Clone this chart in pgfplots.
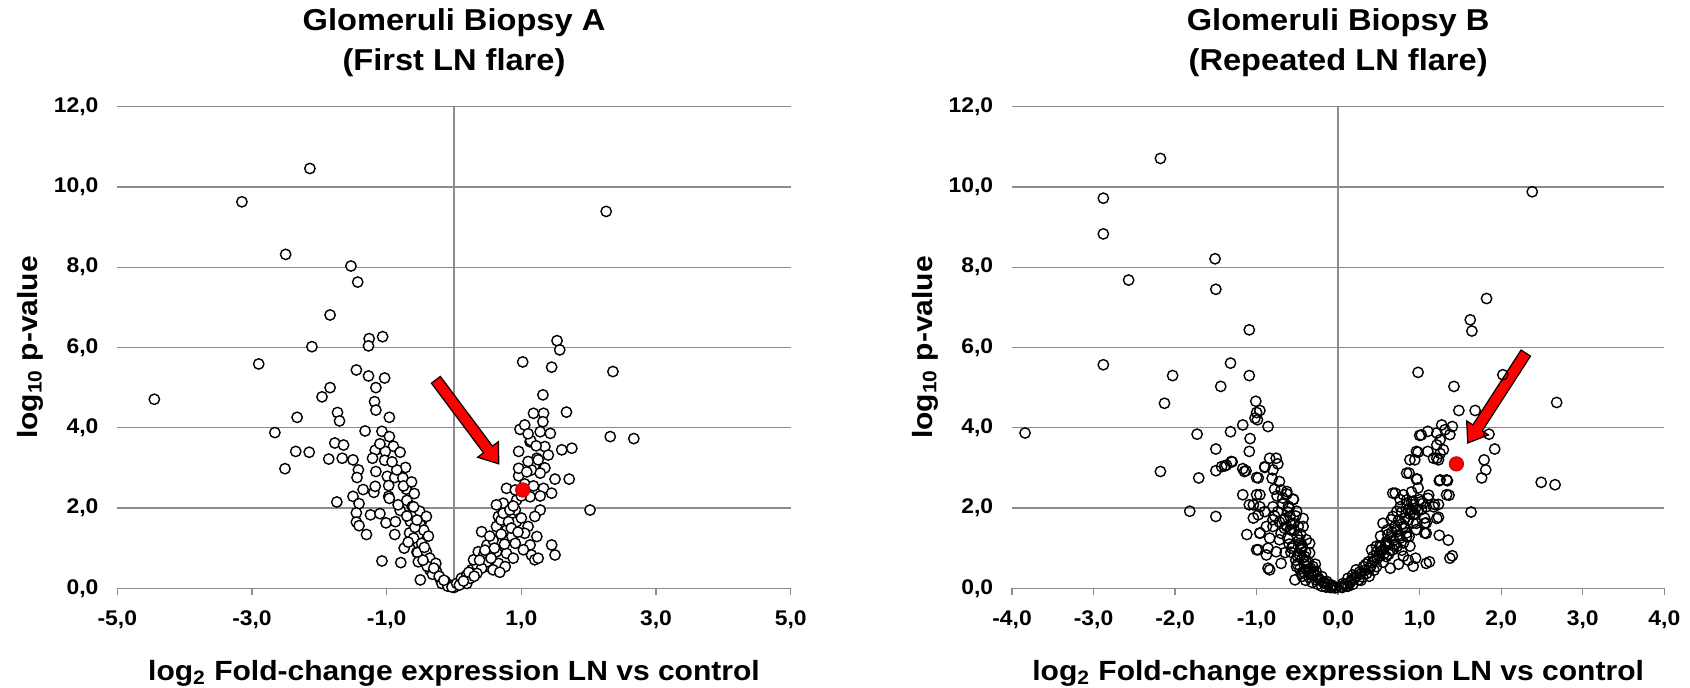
\documentclass[border=0pt]{standalone}
\usepackage{fontspec}
\setmainfont{Liberation Sans}[FakeStretch=1.08]
\usepackage{pgfplots}
\pgfplotsset{compat=1.18}
\definecolor{gridgray}{RGB}{140,140,140}

\pgfplotstableread{
x y
-2.14 10.46
-3.15 9.63
-2.50 8.32
-1.53 8.03
-1.43 7.63
-1.84 6.81
-2.11 6.02
-1.26 6.22
-1.27 6.04
-1.06 6.27
-2.90 5.59
-4.45 4.71
-1.45 5.44
-1.27 5.29
-1.03 5.24
-1.16 5.00
-1.84 5.00
-1.96 4.77
-1.18 4.65
-1.16 4.44
-1.73 4.38
-1.70 4.17
-2.33 4.26
-0.96 4.26
-2.66 3.88
-1.32 3.92
-1.07 3.91
-0.96 3.78
-2.35 3.41
-2.15 3.39
-2.51 2.98
-1.74 2.15
-1.86 3.22
-1.77 3.62
-1.64 3.57
-1.66 3.24
-1.50 3.20
-1.42 2.95
-1.44 2.76
-0.90 3.54
-0.80 3.39
-1.17 3.44
-1.02 3.41
-1.21 3.24
-1.03 3.19
-0.72 3.01
-1.16 2.91
-0.99 2.79
-0.88 2.76
-0.76 2.75
-1.35 2.46
-1.19 2.39
-1.17 2.54
-0.97 2.56
-0.97 2.29
-0.71 2.47
-0.59 2.36
-0.70 2.19
-1.50 2.29
-1.41 2.11
-1.45 1.88
-1.45 1.65
-1.41 1.56
-1.30 1.34
-1.24 1.83
-1.10 1.86
-1.01 1.63
-0.87 1.66
-0.88 1.34
-0.80 1.94
-0.65 1.67
-0.62 2.04
-0.51 1.92
-0.49 1.63
-0.66 1.38
-0.53 1.34
-0.53 1.11
-0.74 1.00
-0.55 0.90
-1.07 0.68
-0.79 0.64
-0.96 2.24
-0.83 2.08
-0.60 2.03
-0.41 1.79
-0.50 1.58
-0.60 1.25
-0.48 1.12
-0.54 0.89
-0.53 0.66
-0.41 0.91
-0.36 0.75
-0.27 0.62
-0.50 0.21
-0.36 0.46
-0.26 0.42
-0.21 0.25
-0.13 0.17
-0.06 0.08
0.00 0.02
-0.45 1.45
-0.44 1.02
-0.40 0.55
-0.32 0.35
-0.18 0.12
-0.09 0.05
-0.03 0.03
-0.58 1.52
-0.70 1.80
-0.75 2.55
-0.85 2.95
-0.63 2.65
-0.92 3.15
-1.10 3.60
-0.46 0.70
-0.30 0.50
-0.22 0.30
-0.15 0.20
-0.55 1.70
-0.68 1.15
-0.38 1.30
0.04 0.12
0.11 0.25
0.19 0.33
0.26 0.46
0.34 0.58
0.36 0.91
0.44 0.83
0.51 0.54
0.41 1.41
0.49 1.08
0.58 1.20
0.63 1.54
0.66 1.79
0.73 2.12
0.70 1.70
0.78 1.45
0.78 0.87
0.86 1.29
0.93 1.66
0.91 1.95
0.93 2.20
0.78 2.49
0.91 2.45
0.96 2.80
0.96 2.99
0.96 3.41
0.98 3.96
1.05 4.07
1.13 3.65
1.18 4.36
1.33 4.36
1.32 4.82
1.32 4.15
1.43 3.86
1.28 3.90
1.35 3.53
1.23 3.24
1.40 3.32
1.33 2.99
1.15 2.95
1.50 2.72
1.67 4.39
1.60 3.45
1.75 3.49
1.71 2.72
1.33 2.49
1.45 2.37
1.28 2.30
1.13 2.28
2.02 1.95
2.32 3.78
2.67 3.73
1.28 1.95
1.20 1.79
1.10 1.54
1.05 1.37
1.23 1.29
1.13 1.08
1.15 0.83
1.03 0.96
1.45 1.08
1.50 0.83
1.20 0.71
1.25 0.75
0.91 1.12
0.63 0.91
0.66 0.62
0.76 0.54
0.58 0.46
0.49 0.66
0.29 0.71
0.41 0.50
0.19 0.12
0.24 0.25
0.34 0.37
0.63 2.08
0.73 1.87
0.83 1.95
0.81 1.66
2.26 9.39
1.53 6.17
1.57 5.94
1.02 5.64
1.45 5.51
2.36 5.40
1.14 3.68
1.10 3.16
1.25 3.20
1.35 3.00
1.28 2.87
0.08 0.08
0.14 0.18
0.22 0.40
0.30 0.30
0.38 0.70
0.46 0.95
0.53 1.30
0.55 0.75
0.60 1.00
0.70 1.35
0.75 1.10
0.85 1.50
0.88 2.05
1.00 2.30
1.05 2.60
1.08 2.90
1.00 1.75
0.95 1.40
1.18 2.55
1.22 3.55
1.10 3.85
0.88 0.75
0.68 0.40
}\dataA

\pgfplotstableread{
x y
-2.18 10.71
-2.88 9.72
-2.88 8.83
-1.51 8.21
-2.57 7.68
-1.50 7.45
-1.09 6.44
-2.88 5.57
-1.32 5.61
-2.03 5.30
-1.09 5.30
-1.44 5.03
-2.13 4.61
-1.01 4.66
-1.00 4.38
-1.02 4.24
-3.84 3.87
-1.73 3.84
-1.32 3.90
-1.17 4.07
-1.08 3.73
-1.50 3.47
-1.09 3.41
-1.30 3.15
-1.39 3.05
-1.50 2.93
-2.18 2.91
-1.17 2.98
-1.13 2.93
-1.71 2.75
-1.00 2.76
-1.17 2.33
-1.09 2.08
-1.00 2.33
-1.82 1.92
-1.50 1.79
-1.12 1.34
-1.00 0.96
-1.04 1.75
-0.96 4.43
-0.99 4.20
-0.86 4.03
-0.98 2.75
-0.90 3.01
-0.84 3.24
-0.76 3.24
-0.80 2.95
-0.72 2.66
-0.63 2.41
-0.55 2.21
-0.96 2.33
-1.04 2.08
-0.98 1.83
-0.96 1.38
-0.80 1.71
-0.67 1.71
-0.61 2.04
-0.51 1.92
-0.59 1.46
-0.43 1.54
-0.39 1.21
-0.35 0.88
-0.72 1.21
-0.86 1.00
-0.57 1.00
-1.43 3.03
-1.37 3.07
-1.31 3.16
-1.15 2.91
-0.90 3.03
-0.74 3.10
-0.81 2.74
-0.78 2.47
-0.70 2.45
-0.63 2.35
-0.55 2.22
-0.96 2.03
-0.90 1.91
-0.80 2.03
-0.74 1.91
-0.65 1.74
-0.59 1.79
-0.55 1.62
-0.49 1.54
-0.57 1.45
-0.43 1.74
-0.63 1.54
-0.70 1.37
-0.80 1.54
-0.88 1.54
-0.96 1.37
-0.84 1.25
-0.98 0.96
-0.88 0.83
-0.76 0.91
-0.65 0.89
-0.84 0.46
-0.70 0.62
-0.53 0.21
-0.45 0.96
-0.41 0.79
-0.37 0.66
-0.31 0.54
-0.27 0.42
-0.20 0.29
-0.14 0.17
-0.08 0.08
-0.02 0.02
-0.39 0.46
-0.33 0.33
-0.27 0.21
-0.47 1.12
-0.35 1.12
-0.51 0.54
-0.45 0.37
-0.86 0.50
-0.50 0.80
-0.42 0.60
-0.36 0.40
-0.30 0.35
-0.24 0.25
-0.18 0.15
-0.12 0.10
-0.06 0.05
-0.44 0.30
-0.40 0.20
-0.32 0.15
-0.25 0.10
-0.50 1.30
-0.46 1.00
-0.52 0.70
-0.60 1.10
-0.40 0.90
-0.62 1.90
-0.68 2.10
-0.75 2.30
-0.58 1.60
-0.46 1.35
-0.20 0.05
-0.15 0.03
-0.10 0.02
-0.28 0.60
-0.55 1.05
-0.48 0.85
-0.44 0.75
-0.38 0.55
-0.34 0.50
-0.30 0.42
-0.26 0.30
-0.22 0.20
-0.16 0.12
-0.50 0.60
-0.47 0.48
-0.42 0.40
-0.36 0.28
-0.62 1.25
-0.58 0.90
-0.66 1.50
-0.54 1.45
-0.72 1.65
-0.78 1.80
-0.68 2.25
-0.60 2.00
-0.52 1.80
-0.48 1.20
-0.44 1.05
-0.40 0.70
-0.08 0.02
-0.04 0.01
2.38 9.88
1.82 7.22
1.62 6.69
1.64 6.41
0.98 5.38
1.42 5.03
2.02 5.32
1.48 4.43
1.68 4.43
2.68 4.63
1.00 3.81
1.10 3.91
1.21 3.87
1.27 4.07
1.31 3.95
1.40 4.03
1.25 3.70
1.37 3.83
1.85 3.84
1.92 3.47
0.98 3.39
0.94 3.20
1.10 3.41
1.17 3.24
1.23 3.20
1.25 3.36
1.21 3.57
1.79 3.20
1.81 2.95
1.76 2.75
0.87 2.87
0.97 2.72
1.24 2.68
1.34 2.68
1.36 2.32
2.49 2.64
2.66 2.58
1.63 1.90
1.11 2.32
1.18 2.09
1.23 1.77
1.24 1.32
1.40 0.81
0.67 2.37
0.76 2.21
0.84 2.12
0.72 1.92
0.65 1.71
0.92 2.17
0.90 1.96
1.00 2.21
1.02 1.96
1.06 1.75
0.92 1.63
0.72 1.46
0.61 1.34
0.59 1.13
0.55 0.96
0.67 0.96
0.80 1.13
0.84 1.38
0.96 1.46
1.06 1.38
0.41 0.96
0.47 1.05
0.51 1.05
1.08 1.63
1.23 2.09
0.88 1.05
0.06 0.12
0.12 0.25
0.18 0.33
0.22 0.46
0.31 0.54
0.37 0.66
0.43 0.79
0.47 0.91
0.53 1.04
0.59 1.16
0.65 1.29
0.72 1.41
0.80 1.54
0.86 1.70
0.92 1.83
0.98 1.95
1.04 2.12
1.10 2.24
0.96 1.62
0.84 1.29
0.72 1.04
0.59 0.79
0.47 0.54
0.35 0.37
0.25 0.21
0.55 1.62
0.67 1.79
0.76 2.03
0.84 2.20
0.70 2.37
0.80 2.33
0.92 2.08
1.02 2.16
1.08 2.03
1.17 2.03
1.21 1.74
1.06 1.62
1.08 1.37
0.87 1.29
0.84 2.87
0.96 2.72
0.88 3.20
0.96 3.41
1.02 3.82
1.29 3.45
1.21 3.24
1.25 2.70
1.33 2.70
1.33 2.33
1.35 1.20
1.37 0.75
1.08 0.62
1.12 0.66
0.03 0.04
0.09 0.10
0.15 0.15
0.20 0.25
0.27 0.35
0.33 0.45
0.28 0.20
0.38 0.30
0.40 0.55
0.45 0.70
0.50 0.80
0.55 0.65
0.62 0.85
0.68 1.20
0.75 1.30
0.78 0.95
0.82 1.75
0.88 1.85
0.95 2.00
0.74 0.60
0.64 0.50
0.12 0.05
0.18 0.10
0.52 1.30
0.60 1.45
0.90 2.40
0.98 2.50
0.78 1.90
0.05 0.02
0.10 0.06
0.16 0.20
0.22 0.30
0.26 0.40
0.30 0.28
0.34 0.60
0.38 0.50
0.42 0.65
0.44 0.45
0.48 0.75
0.52 0.90
0.56 0.85
0.58 1.05
0.62 1.10
0.64 0.95
0.66 1.40
0.70 1.55
0.74 1.70
0.78 1.60
0.82 1.50
0.86 1.95
0.90 2.15
0.94 1.85
0.70 1.10
0.76 1.25
0.80 0.80
0.86 0.70
0.92 0.55
0.95 0.75
}\dataB

\newcommand{\blockarrow}[3]{%
  \draw[fill=red, draw=black, line width=0.6pt, shift={(axis cs:#1)}, rotate=#3]
    (0pt,0pt) -- (-9pt,6.5pt) -- (-9pt,2.8pt) -- (-#2,2.8pt) -- (-#2,-2.8pt)
    -- (-9pt,-2.8pt) -- (-9pt,-6.5pt) -- cycle;}

\pgfplotsset{volcano/.style={
  scale only axis, height=240.8pt,
  ymin=0, ymax=12, ytick={0,2,...,12},
  axis x line=bottom, axis y line=left,
  x axis line style={gridgray, line width=0.7pt, -},
  y axis line style={draw=none},
  ymajorgrids, grid style={gridgray, line width=0.7pt},
  xtick style={gridgray, line width=0.7pt},
  ytick style={draw=none},
  tick align=outside, major tick length=3.3pt,
  tick label style={font=\fontsize{10.6}{12}\selectfont\bfseries},
  xticklabel style={yshift=-4.5pt},
  yticklabel style={xshift=-2.6pt},
  /pgf/number format/fixed, /pgf/number format/fixed zerofill,
  /pgf/number format/precision=1, /pgf/number format/use comma,
  /pgf/number format/assume math mode=true,
  clip=false,
  xlabel={log\textsubscript{2} Fold-change expression LN vs control},
  ylabel={log\textsubscript{10} p-value},
  xlabel style={anchor=center, font=\fontsize{13.9}{16}\selectfont\bfseries},
  ylabel style={anchor=center, font=\fontsize{13.9}{16}\selectfont\bfseries},
  title style={anchor=center, align=center, font=\fontsize{15.1}{20}\selectfont\bfseries},
}}

\begin{document}
\begin{tikzpicture}
\useasboundingbox (0,0) rectangle (845pt,344pt);
\begin{axis}[volcano,
  at={(58.65pt,49.85pt)}, anchor=south west, width=336.7pt,
  xmin=-5, xmax=5, xtick={-5,-3,...,5},
  xlabel style={at={(axis description cs:0.5,-0.177)}},
  ylabel style={at={(axis description cs:-0.1292,0.5)}},
  title style={at={(axis description cs:0.5,1.108)}},
  title={Glomeruli Biopsy A\\(First LN flare)}]
\draw[gridgray, line width=0.7pt] (axis cs:0,0) -- (axis cs:0,12);
\addplot[only marks, mark=*, mark size=2.6pt, mark options={draw=black, fill=white, line width=0.7pt}] table[x=x, y=y] {\dataA};
\addplot[only marks, mark=*, mark size=3.6pt, mark options={fill=red, draw=red!75!black, line width=0.4pt}] coordinates {(1.02,2.45)};
\blockarrow{0.665,3.1}{52.5pt}{-53.2}
\end{axis}
\begin{axis}[volcano,
  at={(506pt,49.85pt)}, anchor=south west, width=326.15pt,
  xmin=-4, xmax=4, xtick={-4,-3,...,4},
  xlabel style={at={(axis description cs:0.5,-0.177)}},
  ylabel style={at={(axis description cs:-0.1334,0.5)}},
  title style={at={(axis description cs:0.5,1.108)}},
  title={Glomeruli Biopsy B\\(Repeated LN flare)}]
\draw[gridgray, line width=0.7pt] (axis cs:0,0) -- (axis cs:0,12);
\addplot[only marks, mark=o, mark size=2.6pt, mark options={draw=black, line width=0.7pt}] table[x=x, y=y] {\dataB};
\addplot[only marks, mark=*, mark size=3.6pt, mark options={fill=red, draw=red!75!black, line width=0.4pt}] coordinates {(1.45,3.10)};
\blockarrow{1.59,3.62}{53.5pt}{-122.8}
\end{axis}
\end{tikzpicture}
\end{document}
